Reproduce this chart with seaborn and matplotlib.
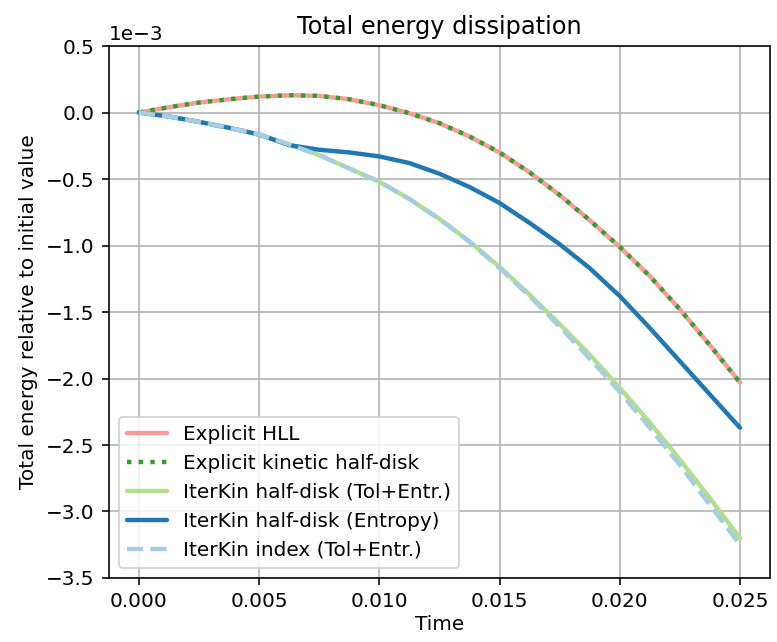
import numpy as np
import pandas as pd
import matplotlib
matplotlib.use("Agg")
import matplotlib.pyplot as plt
import seaborn as sns

# time samples
time = [0.0, 0.00125, 0.0025, 0.00375, 0.005, 0.00625, 0.0075, 0.00875, 0.01, 0.01125,
        0.0125, 0.01375, 0.015, 0.01625, 0.0175, 0.01875, 0.02, 0.02125, 0.0225, 0.02375, 0.025]

# energy relative to initial value (units of 1e-3)
hll = [0.0, 0.04, 0.075, 0.10, 0.12, 0.13, 0.125, 0.10, 0.055, -0.005,
       -0.08, -0.18, -0.30, -0.45, -0.62, -0.81, -1.01, -1.23, -1.48, -1.75, -2.03]
kin_half = hll
iter_tol = [0.0, -0.03, -0.07, -0.115, -0.165, -0.24, -0.32, -0.42, -0.52, -0.65,
            -0.80, -0.97, -1.16, -1.37, -1.59, -1.82, -2.07, -2.33, -2.61, -2.90, -3.20]
iter_entropy = [0.0, -0.03, -0.07, -0.115, -0.165, -0.245, -0.28, -0.30, -0.33, -0.38,
                -0.46, -0.56, -0.68, -0.83, -0.99, -1.17, -1.38, -1.62, -1.87, -2.12, -2.37]
iter_index = [0.0, -0.03, -0.07, -0.115, -0.165, -0.24, -0.32, -0.42, -0.52, -0.65,
              -0.80, -0.97, -1.17, -1.38, -1.61, -1.85, -2.10, -2.37, -2.65, -2.95, -3.25]

labels = ["Explicit HLL", "Explicit kinetic half-disk", "IterKin half-disk (Tol+Entr.)",
          "IterKin half-disk (Entropy)", "IterKin index (Tol+Entr.)"]
series = [hll, kin_half, iter_tol, iter_entropy, iter_index]

pal = sns.color_palette("Paired")
colors = [pal[4], pal[3], pal[2], pal[1], pal[0]]
styles = ["-", ":", "-", "-", "--"]

sns.set_style("ticks", {"text.color": "black", "axes.labelcolor": "black",
                        "xtick.color": "black", "ytick.color": "black",
                        "axes.edgecolor": "black"})
fig = plt.figure(figsize=(777 / 144, 642 / 144), dpi=144)
ax = fig.add_axes([0.140, 0.0997, 0.851, 0.8286])

for lab, vals, c, ls in zip(labels, series, colors, styles):
    df = pd.DataFrame({"t": time, "e": np.array(vals) * 1e-3})
    sns.lineplot(data=df, x="t", y="e", ax=ax, color=c, linestyle=ls, lw=2.2, label=lab)

ax.set_ylim(-3.5e-3, 0.5e-3)
ax.set_yticks(np.arange(-3.5e-3, 0.51e-3, 0.5e-3))
ax.set_xticks([0.0, 0.005, 0.01, 0.015, 0.02, 0.025])
ax.xaxis.set_major_formatter(matplotlib.ticker.FormatStrFormatter("%.3f"))
ax.ticklabel_format(axis="y", style="sci", scilimits=(0, 0))
ax.grid(True, color="#b0b0b0", lw=0.8)
ax.set_title("Total energy dissipation")
ax.set_xlabel("Time", labelpad=2)
ax.set_ylabel("Total energy relative to initial value")
ax.legend(loc="lower left")

fig.savefig("out.png", dpi=144)
